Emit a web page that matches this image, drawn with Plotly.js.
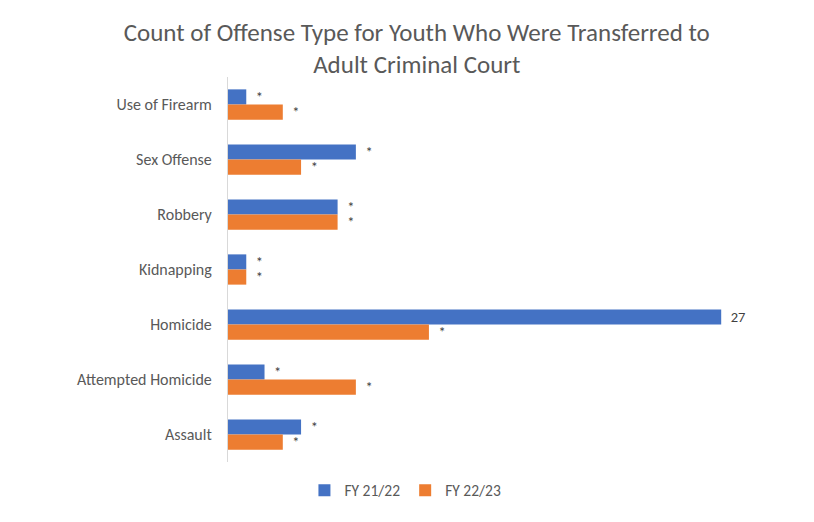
<!DOCTYPE html>
<html>
<head>
<meta charset="utf-8">
<script src="https://cdn.plot.ly/plotly-3.0.1.min.js"></script>
<style>html,body{margin:0;padding:0;background:#fff;}#chart{width:814px;height:522px;}</style>
</head>
<body>
<div id="chart"></div>
<script>
const categories = ["Use of Firearm", "Sex Offense", "Robbery", "Kidnapping", "Homicide", "Attempted Homicide", "Assault"];
const fy2122 = [1, 7, 6, 1, 27, 2, 4];
const fy2223 = [3, 4, 6, 1, 11, 7, 3];
const fy2122Labels = ["*", "*", "*", "*", "27", "*", "*"];
const fy2223Labels = ["*", "*", "*", "*", "*", "*", "*"];
const seriesNames = ["FY 21/22", "FY 22/23"];

const pad = s => "\u00a0\u00a0" + s;
const fontFam = "Carlito, Lato, 'Open Sans', sans-serif";

const traces = [
  {type: "bar", orientation: "h", name: seriesNames[0], y: categories, x: fy2122,
   text: fy2122Labels.map(pad), textposition: "outside", cliponaxis: false, constraintext: "none",
   textfont: {color: "#404040", size: 14.5, family: fontFam},
   marker: {color: "#4472C4"}, hoverinfo: "x+y"},
  {type: "bar", orientation: "h", name: seriesNames[1], y: categories, x: fy2223,
   text: fy2223Labels.map(pad), textposition: "outside", cliponaxis: false, constraintext: "none",
   textfont: {color: "#404040", size: 14.5, family: fontFam},
   marker: {color: "#ED7D31"}, hoverinfo: "x+y"}
];

const layout = {
  width: 814, height: 522,
  paper_bgcolor: "#fff", plot_bgcolor: "#fff",
  margin: {l: 228, r: 38, t: 77, b: 60},
  barmode: "group", bargap: 0.45, bargroupgap: 0,
  font: {family: fontFam, color: "#595959"},
  title: {text: "Count of Offense Type for Youth Who Were Transferred to<br>Adult Criminal Court",
          font: {size: 25, color: "#595959", family: fontFam},
          x: 0.512, xanchor: "center", xref: "container", y: 0.922, yanchor: "middle", yref: "container"},
  xaxis: {range: [0, 30], showgrid: false, zeroline: false, showticklabels: false, ticks: "", showline: false, fixedrange: true},
  yaxis: {autorange: "reversed", showgrid: false, zeroline: false, showline: true, linecolor: "#d9d9d9", linewidth: 1,
          ticks: "", ticklabelstandoff: 12, tickfont: {size: 16, color: "#595959", family: fontFam}, fixedrange: true},
  showlegend: true,
  legend: {orientation: "h", x: 0.374, xanchor: "left", xref: "container", y: 0.06, yanchor: "middle", yref: "container",
           font: {size: 15.5, color: "#595959", family: fontFam}, itemwidth: 30, traceorder: "normal"}
};

Plotly.newPlot("chart", traces, layout, {displayModeBar: false, staticPlot: true});
</script>
</body>
</html>
